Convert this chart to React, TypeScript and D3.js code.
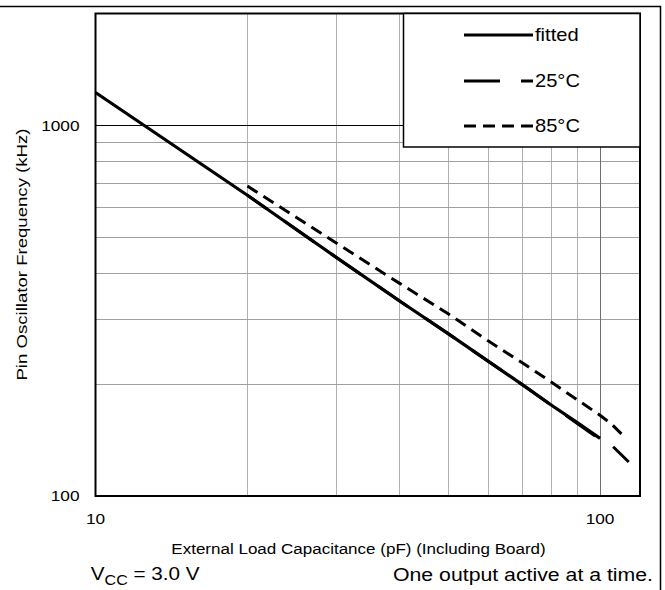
import React, { useEffect, useRef } from 'react';
import * as d3 from 'd3';

const W = 665;
const H = 590;
const FONT = '"Liberation Sans", Arial, Helvetica, sans-serif';

// values (log-log)
const fitCap = [10, 20, 30, 40, 50, 60, 70, 80, 90, 100];
const fitFreq = [1225, 647, 440, 336, 274, 231, 200, 176, 158, 143];
const cap25 = [20, 30, 40, 50, 60, 70, 80, 90, 100, 106, 114];
const freq25 = [647, 440, 336, 274, 231, 200, 176, 157, 142, 136, 123.5];
const cap85 = [20, 30, 40, 50, 60, 70, 80, 90, 100, 105, 112];
const freq85 = [685, 481, 375, 310, 262, 229, 203, 182, 165, 157, 144];

const xGrid = [20, 30, 40, 50, 60, 70, 80, 90];
const yGrid = [200, 300, 400, 500, 600, 700, 800, 900];
const xTicks = [10, 100];
const yTicks = [100, 1000];
const legendNames = ['fitted', '25°C', '85°C'];
const legendDash = ['none', '36,21', '12,7'];

const App = () => {
  const ref = useRef<SVGSVGElement>(null);

  useEffect(() => {
    const svg = d3.select(ref.current);
    svg.selectAll('*').remove();

    const x = d3.scaleLog().domain([10, 120]).range([95.5, 640]);
    const y = d3.scaleLog().domain([100, 2000]).range([496, 13.5]);
    const left = x(10), right = x(120), top = y(2000), bottom = y(100);

    // text is a bit wider than plain Arial in the original
    const label = (tx: number, ty: number, str: string, size: number, anchor: string, extra = '') =>
      svg.append('text')
        .attr('transform', `translate(${tx},${ty}) ${extra} scale(1.15,1)`)
        .attr('text-anchor', anchor)
        .attr('font-family', FONT)
        .attr('font-size', size)
        .attr('fill', '#000')
        .text(str);

    // outer frame (top + right visible)
    svg.append('path')
      .attr('d', `M0,6.5H660.5V${H}`)
      .attr('fill', 'none')
      .attr('stroke', '#000')
      .attr('stroke-width', 1.5);

    // grid
    const grid = svg.append('g');
    grid.selectAll('line.v').data(xGrid).join('line')
      .attr('class', 'v')
      .attr('x1', d => Math.round(x(d)) + 0.5)
      .attr('x2', d => Math.round(x(d)) + 0.5)
      .attr('y1', top).attr('y2', bottom)
      .attr('stroke', '#b0b0b0');
    grid.selectAll('line.h').data(yGrid).join('line')
      .attr('class', 'h')
      .attr('y1', d => Math.round(y(d)) + 0.5)
      .attr('y2', d => Math.round(y(d)) + 0.5)
      .attr('x1', left).attr('x2', right)
      .attr('stroke', '#a0a0a0');
    grid.append('line')
      .attr('x1', Math.round(x(100)) + 0.5).attr('x2', Math.round(x(100)) + 0.5)
      .attr('y1', top).attr('y2', bottom)
      .attr('stroke', '#6e6e6e');
    grid.append('line')
      .attr('y1', Math.round(y(1000)) + 0.5).attr('y2', Math.round(y(1000)) + 0.5)
      .attr('x1', left).attr('x2', right)
      .attr('stroke', '#000');

    const line = d3.line<[number, number]>().x(d => x(d[0])).y(d => y(d[1]));

    // 85°C
    const pts85 = cap85.map((c, i) => [c, freq85[i]] as [number, number]);
    svg.append('path')
      .attr('d', line(pts85))
      .attr('fill', 'none')
      .attr('stroke', '#000')
      .attr('stroke-width', 3)
      .attr('stroke-dasharray', '12,7');

    // 25°C : place a gap just after 100 pF like in the original
    const pts25 = cap25.map((c, i) => [c, freq25[i]] as [number, number]);
    const lens = [0];
    for (let i = 1; i < pts25.length; i++) {
      const dx = x(pts25[i][0]) - x(pts25[i - 1][0]);
      const dy = y(pts25[i][1]) - y(pts25[i - 1][1]);
      lens.push(lens[i - 1] + Math.hypot(dx, dy));
    }
    const gapStart = lens[cap25.indexOf(100)] - 6;
    const offset = (((36 - gapStart) % 57) + 57) % 57;
    svg.append('path')
      .attr('d', line(pts25))
      .attr('fill', 'none')
      .attr('stroke', '#000')
      .attr('stroke-width', 3)
      .attr('stroke-dasharray', '36,21')
      .attr('stroke-dashoffset', offset);

    // fitted
    const ptsFit = fitCap.map((c, i) => [c, fitFreq[i]] as [number, number]);
    svg.append('path')
      .attr('d', line(ptsFit))
      .attr('fill', 'none')
      .attr('stroke', '#000')
      .attr('stroke-width', 3.2);

    // plot frame
    svg.append('rect')
      .attr('x', left).attr('y', top)
      .attr('width', right - left).attr('height', bottom - top)
      .attr('fill', 'none')
      .attr('stroke', '#000')
      .attr('stroke-width', 2);

    // legend
    const lg = svg.append('g');
    lg.append('rect')
      .attr('x', 403.5).attr('y', top)
      .attr('width', right - 403.5).attr('height', 147 - top)
      .attr('fill', '#fff')
      .attr('stroke', '#000')
      .attr('stroke-width', 1.5);
    const legendY = [35, 81, 126];
    legendNames.forEach((name, i) => {
      lg.append('line')
        .attr('x1', 464).attr('x2', 533)
        .attr('y1', legendY[i]).attr('y2', legendY[i])
        .attr('stroke', '#000')
        .attr('stroke-width', 3.2)
        .attr('stroke-dasharray', legendDash[i]);
      label(535, legendY[i] + 6.3, name, 17.5, 'start');
    });

    // tick labels
    xTicks.forEach(t => label(x(t), 524, String(t), 15, 'middle'));
    yTicks.forEach(t => label(79.5, y(t) + 5.4, String(t), 15, 'end'));

    // axis titles
    label(358.5, 554, 'External Load Capacitance (pF) (Including Board)', 14.8, 'middle');
    svg.append('text')
      .attr('transform', 'translate(27,254.5) rotate(-90) scale(1.2,1)')
      .attr('text-anchor', 'middle')
      .attr('font-family', FONT)
      .attr('font-size', 15.5)
      .text('Pin Oscillator Frequency (kHz)');

    // footnotes
    const vcc = svg.append('text')
      .attr('transform', 'translate(90.7,580) scale(1.15,1)')
      .attr('font-family', FONT)
      .attr('font-size', 18);
    vcc.append('tspan').text('V');
    vcc.append('tspan').attr('font-size', 14).attr('dy', 5).text('CC');
    vcc.append('tspan').attr('dy', -5).text(' = 3.0 V');
    label(653, 581, 'One output active at a time.', 18.5, 'end');
  }, []);

  return (
    <svg
      ref={ref}
      width={W}
      height={H}
      style={{ position: 'fixed', left: 0, top: 0, background: '#fff' }}
    />
  );
};

export default App;
